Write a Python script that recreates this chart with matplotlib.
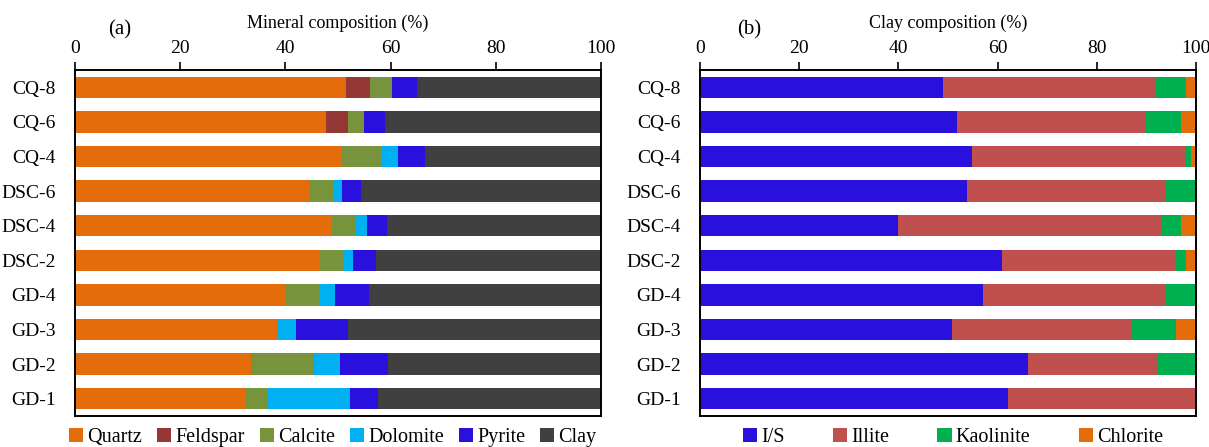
import matplotlib
matplotlib.use("Agg")
import matplotlib.pyplot as plt
from matplotlib.patches import Patch
import numpy as np

plt.rcParams['font.family'] = ['Liberation Serif', 'DejaVu Serif']

samples = ["CQ-8", "CQ-6", "CQ-4", "DSC-6", "DSC-4", "DSC-2",
           "GD-4", "GD-3", "GD-2", "GD-1"]

# Whole-rock mineral composition (%)
quartz   = [51.6, 47.8, 50.7, 44.6, 48.8, 46.5, 40.2, 38.4, 33.4, 32.6]
feldspar = [4.5, 4.1, 0.0, 0.0, 0.0, 0.0, 0.0, 0.0, 0.0, 0.0]
calcite  = [4.2, 3.0, 7.5, 4.6, 4.7, 4.5, 6.3, 0.0, 12.0, 4.1]
dolomite = [0.0, 0.0, 3.2, 1.5, 2.1, 1.9, 3.0, 3.6, 4.9, 15.5]
pyrite   = [4.7, 4.0, 5.1, 3.6, 3.8, 4.4, 6.4, 9.9, 9.3, 5.4]
clay     = [35.0, 41.1, 33.5, 45.7, 40.6, 42.7, 44.1, 48.1, 40.4, 42.4]

# Clay mineral composition (%)
i_s       = [48.9, 51.9, 54.9, 53.9, 39.9, 60.9, 57.0, 50.9, 66.1, 62.0]
illite    = [43.0, 38.1, 43.0, 40.0, 53.0, 34.9, 36.9, 36.1, 26.1, 38.0]
kaolinite = [6.1, 7.0, 1.1, 6.1, 4.1, 2.2, 6.1, 9.0, 7.8, 0.0]
chlorite  = [2.0, 3.0, 1.0, 0.0, 3.0, 2.0, 0.0, 4.0, 0.0, 0.0]

mineral_names = ["Quartz", "Feldspar", "Calcite", "Dolomite", "Pyrite", "Clay"]
mineral_colors = ["#E46C0A", "#953735", "#77933C", "#00B0F0", "#2A10DC", "#404040"]
clay_names = ["I/S", "Illite", "Kaolinite", "Chlorite"]
clay_colors = ["#2A10DC", "#C0504D", "#00B050", "#E46C0A"]

fig = plt.figure(figsize=(12.09, 4.47), dpi=100)
H = 447.0
W = 1209.0


def add_panel(rect_px, series, names, colors, title, tag, legend_opts):
    x0, x1, y0, y1 = rect_px
    ax = fig.add_axes([x0 / W, 1 - y1 / H, (x1 - x0) / W, (y1 - y0) / H])
    y = np.arange(len(samples))
    left = np.zeros(len(samples))
    handles = []
    for vals, name, col in zip(series, names, colors):
        vals = np.asarray(vals, dtype=float)
        ax.barh(y, vals, left=left, height=0.62, color=col, edgecolor='none')
        left += vals
        handles.append(Patch(facecolor=col, edgecolor='none', label=name))
    ax.set_xlim(0, 100)
    ax.set_ylim(len(samples) - 0.5, -0.5)
    ax.set_yticks(y)
    ax.set_yticklabels(samples, fontsize=14)
    ax.tick_params(axis='y', length=0, pad=14)
    ax.xaxis.tick_top()
    ax.set_xticks(np.arange(0, 101, 20))
    ax.tick_params(axis='x', top=True, bottom=False, direction='out',
                   length=6, width=1.2, labelsize=14, pad=3)
    for s in ax.spines.values():
        s.set_linewidth(1.4)
        s.set_color('black')
    ax.xaxis.set_label_position('top')
    ax.set_xlabel(title, fontsize=13, labelpad=9)
    ax.text(tag[1], tag[2], tag[0], transform=ax.transAxes, fontsize=15,
            ha='center', va='center')
    ax.legend(handles=handles, loc='center', ncol=len(names),
              bbox_to_anchor=legend_opts['anchor'], frameon=False,
              fontsize=14.5, handlelength=0.7, handleheight=0.7,
              handletextpad=0.2, columnspacing=legend_opts['cs'],
              borderaxespad=0)
    return ax


add_panel((75, 601, 70, 416),
          [quartz, feldspar, calcite, dolomite, pyrite, clay],
          mineral_names, mineral_colors,
          "Mineral composition (%)", ("(a)", 0.085, 1.115),
          {'anchor': (0.49, -0.062), 'cs': 0.75})

add_panel((700, 1196, 70, 416),
          [i_s, illite, kaolinite, chlorite],
          clay_names, clay_colors,
          "Clay composition (%)", ("(b)", 0.1, 1.115),
          {'anchor': (0.51, -0.062), 'cs': 2.4})

fig.savefig("out.png", dpi=100)
